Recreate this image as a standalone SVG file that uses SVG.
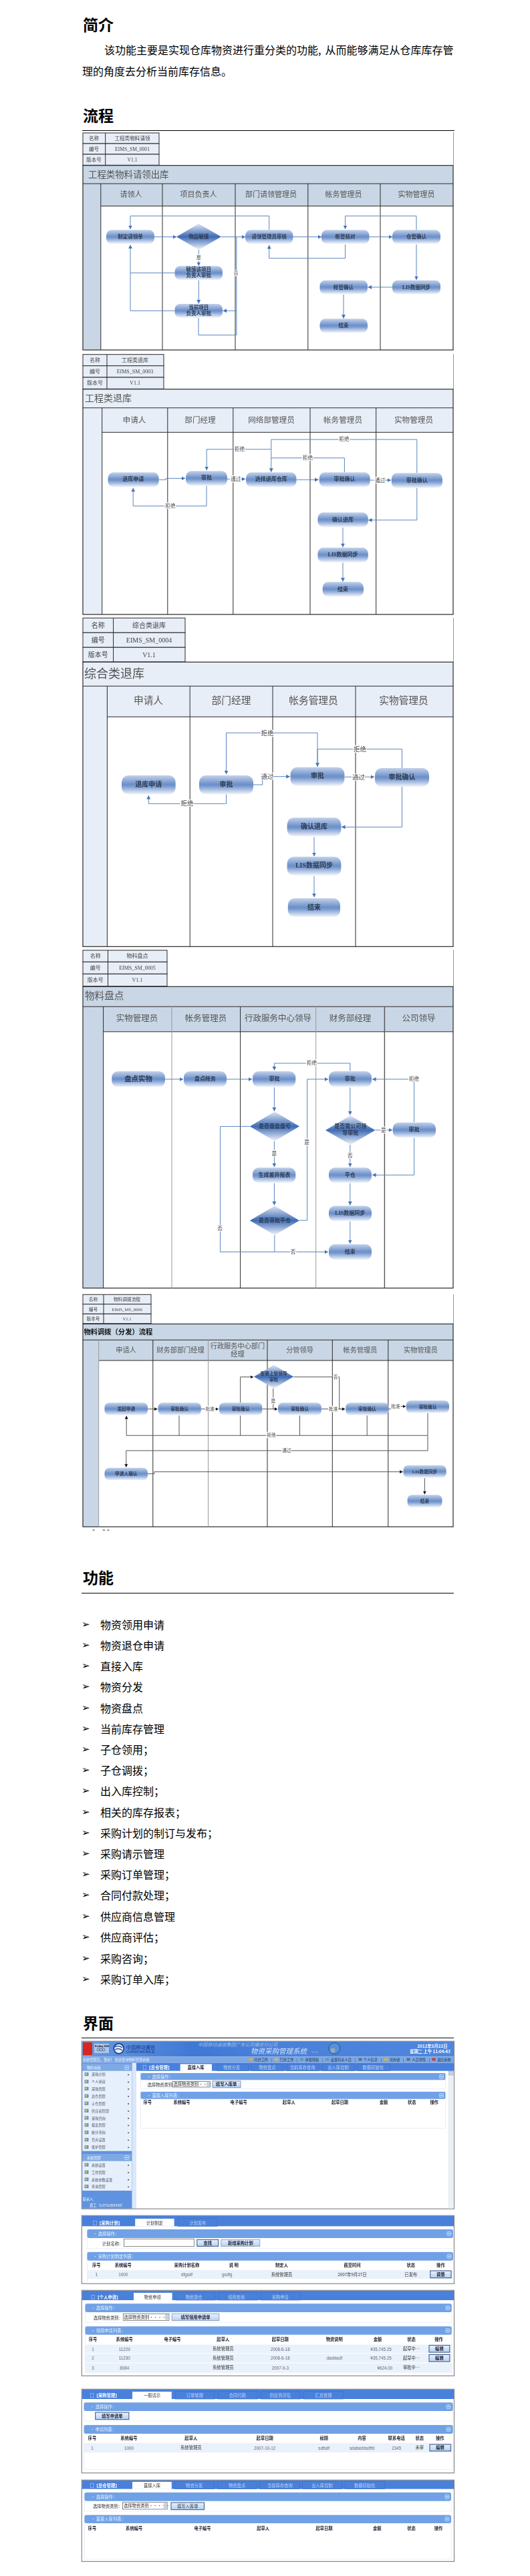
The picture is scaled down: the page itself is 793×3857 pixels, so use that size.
<svg xmlns="http://www.w3.org/2000/svg" xmlns:xlink="http://www.w3.org/1999/xlink" width="793" height="3857" viewBox="0 0 793 3857">
<style>
text{font-family:"Liberation Serif","Noto Sans CJK SC",serif;fill:#111;dominant-baseline:central}
.m{text-anchor:middle}
.h1{font-size:23px;font-weight:700;fill:#000}
.body{font-size:16px;fill:#000;font-family:"Noto Sans CJK SC",sans-serif;dominant-baseline:auto}
.li{font-size:16px;fill:#000;font-family:"Noto Sans CJK SC",sans-serif}
.rule{stroke:#000;stroke-width:1;fill:none}
.frame{fill:none;stroke:#2a2a2a;stroke-width:1.2}
.lane{stroke:#2a2a2a;stroke-width:1;fill:none}
.thin{stroke:#999;stroke-width:1;fill:none}
.dk{fill:#c8d6e5}.lt{fill:#e8eef7}
.meta{fill:#e8eef7;stroke:#2a2a2a;stroke-width:1}
.tx{fill:#444}
.hd{fill:#555}
.pill{fill:url(#pg)}
.dia{fill:url(#dg)}
.nt{fill:#2e3a4e;font-weight:700}
.c{fill:none;stroke:#5a86bd;stroke-width:1}
.a{marker-end:url(#ar)}
.cd{fill:none;stroke:#555;stroke-width:1}
.ad{marker-end:url(#ak)}
.l{fill:#444;paint-order:stroke;stroke:#fff;stroke-width:2.5px;stroke-linejoin:round}
.bl{filter:url(#b)}
.bullet{font-family:"DejaVu Sans",sans-serif;font-size:15px;fill:#000;font-weight:700}
.shot{fill:#fff;stroke:#888;stroke-width:1.2}
.bar{fill:#4a80dc}
.tab{fill:#4a80dc;stroke:#3b6fc2;stroke-width:.6}
.on{fill:#fff}
.ph{fill:#6fa1e6}
.pb{fill:#fff;stroke:#e4ecf7;stroke-width:.8}
.row{fill:#e9f1fa}
.sel{fill:#fff;stroke:#555;stroke-width:.7}
.btn{fill:url(#bt);stroke:#24426e;stroke-width:.9}
.s{font-size:6.3px;font-family:"Noto Sans CJK SC",sans-serif;fill:#333}
.sb{font-size:6.3px;font-family:"Noto Sans CJK SC",sans-serif;fill:#223;font-weight:700}
.sw{font-size:6.3px;font-family:"Noto Sans CJK SC",sans-serif;fill:#e8f0fc}
.st{font-size:6.3px;font-family:"Noto Sans CJK SC",sans-serif;fill:#bcd2f2}
.sm{font-size:5.2px;font-family:"Noto Sans CJK SC",sans-serif;fill:#556}
.w5{font-size:5.2px;font-family:"Noto Sans CJK SC",sans-serif;fill:#f2f6fd}
.d{font-size:6.3px;font-family:"Liberation Sans",sans-serif;fill:#667}
</style>
<defs>
<linearGradient id="pg" x1="0" y1="0" x2="0" y2="1"><stop offset="0" stop-color="#c2d1e9"/><stop offset=".48" stop-color="#6a8fc9"/><stop offset=".58" stop-color="#7a9bd0"/><stop offset="1" stop-color="#f2f5fb"/></linearGradient>
<linearGradient id="dg" x1="0" y1="0" x2="0" y2="1"><stop offset="0" stop-color="#dfe7f3"/><stop offset=".5" stop-color="#3f6cb5"/><stop offset="1" stop-color="#f2f5fb"/></linearGradient>
<linearGradient id="bt" x1="0" y1="0" x2="0" y2="1"><stop offset="0" stop-color="#e8f2ff"/><stop offset="1" stop-color="#b4d0f2"/></linearGradient>
<linearGradient id="hg" x1="0" y1="0" x2="1" y2="0"><stop offset="0" stop-color="#6a9ae0"/><stop offset=".3" stop-color="#3f78d4"/><stop offset=".5" stop-color="#4a80d8"/><stop offset="1" stop-color="#4f86de"/></linearGradient>
<marker id="ar" markerUnits="userSpaceOnUse" markerWidth="6" markerHeight="6" refX="5.5" refY="3" orient="auto"><path d="M0,0L5.5,3L0,6z" fill="#4472b8"/></marker>
<marker id="ak" markerUnits="userSpaceOnUse" markerWidth="5" markerHeight="5" refX="4.5" refY="2.5" orient="auto"><path d="M0,0L4.5,2.5L0,5z" fill="#111"/></marker>
<filter id="b" x="-2%" y="-2%" width="104%" height="104%"><feGaussianBlur stdDeviation=".32"/></filter>
<g id="mi"><rect x="0" y="-2.6" width="6" height="5.2" fill="#6d8fb3"/><rect x="1" y="-1.6" width="2.6" height="2.6" fill="#e7c36a"/></g>
<path id="ma" d="M0,-1.2L2,0L0,1.2z" fill="#222"/>
<g id="ci"><rect x="-3" y="-3" width="6" height="6" rx="1.5" fill="#7fb0ec" stroke="#d8e8fb" stroke-width=".7"/><path d="M-1.6,0H1.6" stroke="#fff" stroke-width=".8"/></g>
</defs>

<rect width="793" height="3857" fill="#fff"/>

<g id="intro">
<text class="h1" x="124" y="38">简介</text>
<text class="body" x="156" y="81">该功能主要是实现仓库物资进行重分类的功能,<tspan x="486.5">从而能够满足从仓库库存管</tspan></text>
<text class="body" x="123" y="113">理的角度去分析当前库存信息。</text>
<text class="h1" x="124" y="174">流程</text>
<path class="rule" d="M123,195.5H680"/>
</g>

<!-- ============ DIAGRAM 1 ============ -->
<g id="flow1" class="bl">
<path class="thin" d="M678.5,198V247.5"/>
<g id="flow1-frame">
<rect class="meta" x="124" y="199" width="114" height="16"/><rect class="meta" x="124" y="215" width="114" height="16"/><rect class="meta" x="124" y="231" width="114" height="16.3"/>
<path class="lane" d="M157.7,199V247.3"/>
<text class="m tx" font-size="7.6" x="140.5" y="207">名称</text><text class="m tx" font-size="7.6" x="198" y="207">工程类物料请领</text>
<text class="m tx" font-size="7.6" x="140.5" y="223">编号</text><text class="m tx" font-size="7.6" x="198" y="223">EIMS_SM_0001</text>
<text class="m tx" font-size="7.6" x="140.5" y="239">版本号</text><text class="m tx" font-size="7.6" x="198" y="239">V1.1</text>
<rect class="dk" x="124" y="247.7" width="554" height="27.3"/><rect class="dk" x="124" y="275" width="26.8" height="249"/><rect class="dk" x="150.8" y="275" width="527.2" height="33.5"/>
<rect class="frame" x="124" y="247.7" width="554" height="276.3"/>
<path class="lane" d="M124,275H678M150.8,308.5H678M150.8,275V524M243,275V524M352,275V524M460.8,275V524M569,275V524"/>
<text class="hd" font-size="13.4" x="132" y="261">工程类物料请领出库</text>
<text class="m hd" font-size="11" x="196" y="291">请领人</text><text class="m hd" font-size="11" x="297" y="291">项目负责人</text><text class="m hd" font-size="11" x="405.5" y="291">部门请领管理员</text><text class="m hd" font-size="11" x="514" y="291">帐务管理员</text><text class="m hd" font-size="11" x="623" y="291">实物管理员</text>
</g>
<g id="flow1-connectors">
<path class="c a" d="M231,354.7H264"/><path class="c a" d="M331,354.7H367"/><path class="c a" d="M438,354.7H481"/><path class="c a" d="M552,354.7H587"/>
<path class="c a" d="M402.7,344V323.3H195V343"/><path class="c a" d="M623,344V323.3H516.5V343"/>
<path class="c a" d="M516.5,366V386.7H402.7V367"/><path class="c a" d="M623,366V419"/><path class="c a" d="M587,430H550.5"/><path class="c a" d="M514,441V476.7"/>
<path class="c a" d="M297.3,374V398"/><path class="c a" d="M261.5,408.7H195V366.7"/><path class="c" d="M261.5,465.3H195V408.7"/><path class="c a" d="M297.3,419.5V454.5"/>
<path class="c" d="M297,476V501.7H353.8V354.7"/><path class="c a" d="M353.8,465.3H333.5"/>
<text class="m l" font-size="7" x="297.3" y="385.7">是</text><text class="m l" font-size="7" x="353" y="408.7">否</text>
</g>
<g id="f1n1"><rect class="pill" x="159" y="344.3" width="72" height="20.7" rx="8"/><text class="m nt" font-size="7.5" x="195" y="354.5">制定请领单</text></g>
<g id="f1n2"><path class="dia" d="M297.3,335L331,354.5L297.3,374L264,354.5z"/><text class="m nt" font-size="7.5" x="297.3" y="354.5">物品敏感</text></g>
<g id="f1n3"><rect class="pill" x="367" y="344.3" width="71.5" height="20.7" rx="8"/><text class="m nt" font-size="7.5" x="402.7" y="354.5">请领管理员审核</text></g>
<g id="f1n4"><rect class="pill" x="481" y="344.3" width="71.5" height="20.7" rx="8"/><text class="m nt" font-size="7.5" x="516.5" y="354.5">帐管核对</text></g>
<g id="f1n5"><rect class="pill" x="587" y="344.3" width="72" height="20.7" rx="8"/><text class="m nt" font-size="7.5" x="623" y="354.5">仓管确认</text></g>
<g id="f1n6"><rect class="pill" x="261.5" y="398.3" width="71.5" height="21" rx="8"/><text class="m nt" font-size="7.5" x="297.3" y="403.7">敏感该项目</text><text class="m nt" font-size="7.5" x="297.3" y="412.7">负责人审批</text></g>
<g id="f1n7"><rect class="pill" x="261.5" y="455" width="71.5" height="20.7" rx="8"/><text class="m nt" font-size="7.5" x="297.3" y="460.5">当前项目</text><text class="m nt" font-size="7.5" x="297.3" y="469.3">负责人审批</text></g>
<g id="f1n8"><rect class="pill" x="587" y="419.7" width="72" height="20.7" rx="8"/><text class="m nt" font-size="7.5" x="623" y="430">LIS数据同步</text></g>
<g id="f1n9"><rect class="pill" x="478.5" y="419.7" width="71.5" height="20.7" rx="8"/><text class="m nt" font-size="7.5" x="514" y="430">帐管确认</text></g>
<g id="f1n10"><rect class="pill" x="478.5" y="477.3" width="71.5" height="21" rx="8"/><text class="m nt" font-size="7.5" x="514" y="487.5">结束</text></g>
</g>

<!-- ============ DIAGRAM 2 ============ -->
<g id="flow2" class="bl">
<path class="thin" d="M678.5,530V582.7"/>
<g id="flow2-frame">
<rect class="meta" x="124" y="530.7" width="121" height="17"/><rect class="meta" x="124" y="547.7" width="121" height="17.3"/><rect class="meta" x="124" y="565" width="121" height="17.3"/>
<path class="lane" d="M160,530.7V582.3"/>
<text class="m tx" font-size="8" x="142" y="539">名称</text><text class="m tx" font-size="8" x="202" y="539">工程类退库</text>
<text class="m tx" font-size="8" x="142" y="556">编号</text><text class="m tx" font-size="8" x="202" y="556">EIMS_SM_0003</text>
<text class="m tx" font-size="8" x="142" y="573">版本号</text><text class="m tx" font-size="8" x="202" y="573">V1.1</text>
<rect class="lt" x="124" y="582.7" width="554" height="28"/><rect class="lt" x="124" y="610.7" width="28.7" height="309.3"/><rect class="lt" x="152.7" y="610.7" width="525.3" height="36.6"/>
<rect class="frame" x="124" y="582.7" width="554" height="337.3"/>
<path class="lane" d="M124,610.7H678M152.7,647.3H678M152.7,610.7V920M250.8,610.7V920M348.8,610.7V920M464,610.7V920M562.7,610.7V920"/>
<text class="hd" font-size="14" x="127" y="596.7">工程类退库</text>
<text class="m hd" font-size="11.6" x="201" y="629">申请人</text><text class="m hd" font-size="11.6" x="299.5" y="629">部门经理</text><text class="m hd" font-size="11.6" x="406" y="629">网络部管理员</text><text class="m hd" font-size="11.6" x="513" y="629">帐务管理员</text><text class="m hd" font-size="11.6" x="619" y="629">实物管理员</text>
</g>
<g id="flow2-connectors">
<path class="c a" d="M237.7,718.3H248V716.3H277"/><path class="c a" d="M340,717.3H367"/><path class="c a" d="M443.5,718.3H476.5"/><path class="c a" d="M553.8,719H585"/>
<path class="c a" d="M309,727.3V757.7H199.2V730.7"/>
<path class="c a" d="M623.8,708V658H405.8V706.7"/><path class="c" d="M515.4,707V685.7H405.8"/><path class="c a" d="M405.8,672.7H309.2V704"/>
<path class="c a" d="M623.8,730.7V778.7H551"/><path class="c a" d="M513,790V819.3"/><path class="c a" d="M513,842.7V870.7"/>
<text class="m l" font-size="7.7" x="352.7" y="717.7">通过</text><text class="m l" font-size="7.7" x="568.5" y="719">通过</text><text class="m l" font-size="7.7" x="255" y="757">拒绝</text><text class="m l" font-size="7.7" x="515" y="657">拒绝</text><text class="m l" font-size="7.7" x="460.4" y="685">拒绝</text><text class="m l" font-size="7.7" x="358.5" y="672.3">拒绝</text>
</g>
<g id="f2n1"><rect class="pill" x="161.5" y="707.3" width="76.2" height="22" rx="8.5"/><text class="m nt" font-size="8" x="199.2" y="717.8">退库申请</text></g>
<g id="f2n2"><rect class="pill" x="278" y="705.3" width="62" height="22" rx="8.5"/><text class="m nt" font-size="8" x="309" y="715.8">审批</text></g>
<g id="f2n3"><rect class="pill" x="368" y="707.3" width="75.5" height="22" rx="8.5"/><text class="m nt" font-size="8" x="405.8" y="717.8">选择退库仓库</text></g>
<g id="f2n4"><rect class="pill" x="477.7" y="707.3" width="76.1" height="22" rx="8.5"/><text class="m nt" font-size="8" x="515.4" y="717.8">审批确认</text></g>
<g id="f2n5"><rect class="pill" x="585.8" y="708.3" width="76.2" height="22.4" rx="8.5"/><text class="m nt" font-size="8" x="623.8" y="719">审批确认</text></g>
<g id="f2n6"><rect class="pill" x="475.4" y="767.3" width="75.4" height="22" rx="8.5"/><text class="m nt" font-size="8" x="513" y="778">确认退库</text></g>
<g id="f2n7"><rect class="pill" x="475.4" y="820" width="75.4" height="22" rx="8.5"/><text class="m nt" font-size="8" x="513" y="830.5">LIS数据同步</text></g>
<g id="f2n8"><rect class="pill" x="482.7" y="871.3" width="61.3" height="22" rx="8.5"/><text class="m nt" font-size="8" x="513" y="882">结束</text></g>
</g>

<!-- ============ DIAGRAM 3 ============ -->
<g id="flow3" class="bl">
<path class="thin" d="M678.5,925V991"/>
<g id="flow3-frame">
<rect class="meta" x="124" y="925.3" width="153" height="22"/><rect class="meta" x="124" y="947.3" width="153" height="22"/><rect class="meta" x="124" y="969.3" width="153" height="21.7"/>
<path class="lane" d="M169.6,925.3V991"/>
<text class="m tx" font-size="10" x="146.8" y="936">名称</text><text class="m tx" font-size="10" x="223" y="936">综合类退库</text>
<text class="m tx" font-size="10" x="146.8" y="958">编号</text><text class="m tx" font-size="10" x="223" y="958">EIMS_SM_0004</text>
<text class="m tx" font-size="10" x="146.8" y="980">版本号</text><text class="m tx" font-size="10" x="223" y="980">V1.1</text>
<rect class="lt" x="124" y="991.3" width="554" height="36"/><rect class="lt" x="124" y="1027.3" width="36.4" height="390"/><rect class="lt" x="160.4" y="1027.3" width="517.6" height="46"/>
<rect class="frame" x="124" y="991.3" width="554" height="426"/>
<path class="lane" d="M124,1027.3H678M160.4,1073.3H678M160.4,1027.3V1417.3M284.2,1027.3V1417.3M408,1027.3V1417.3M532,1027.3V1417.3"/>
<text class="hd" font-size="18" x="126" y="1008.7">综合类退库</text>
<text class="m hd" font-size="14.7" x="222" y="1049.3">申请人</text><text class="m hd" font-size="14.7" x="346" y="1049.3">部门经理</text><text class="m hd" font-size="14.7" x="469" y="1049.3">帐务管理员</text><text class="m hd" font-size="14.7" x="604" y="1049.3">实物管理员</text>
</g>
<g id="flow3-connectors">
<path class="c a" d="M379,1175H392.7V1162.7H433.8"/><path class="c a" d="M515.4,1163.3H560"/>
<path class="c a" d="M338.5,1189.3V1203.3H222.3V1191"/>
<path class="c a" d="M475,1148V1097.3H338.5V1159.3"/>
<path class="c a" d="M601.5,1150V1121.7H475V1147.7"/>
<path class="c a" d="M601.5,1178V1238.3H511"/><path class="c a" d="M470,1253.3V1282"/><path class="c a" d="M470,1311.7V1343.3"/>
<text class="m l" font-size="9.6" x="400" y="1162">通过</text><text class="m l" font-size="9.6" x="536.5" y="1163">通过</text><text class="m l" font-size="9.6" x="280" y="1202.7">拒绝</text><text class="m l" font-size="9.6" x="400" y="1097">拒绝</text><text class="m l" font-size="9.6" x="538.5" y="1121.3">拒绝</text>
</g>
<g id="f3n1"><rect class="pill" x="182" y="1161" width="80.7" height="28.3" rx="10"/><text class="m nt" font-size="10" x="222.3" y="1174">退库申请</text></g>
<g id="f3n2"><rect class="pill" x="298" y="1161" width="81" height="28.3" rx="10"/><text class="m nt" font-size="10" x="338.5" y="1174">审批</text></g>
<g id="f3n3"><rect class="pill" x="434.6" y="1148.7" width="80.8" height="28" rx="10"/><text class="m nt" font-size="10" x="475" y="1161.7">审批</text></g>
<g id="f3n4"><rect class="pill" x="561" y="1150" width="81" height="28" rx="10"/><text class="m nt" font-size="10" x="601.5" y="1163">审批确认</text></g>
<g id="f3n5"><rect class="pill" x="429.6" y="1224.3" width="80.8" height="28" rx="10"/><text class="m nt" font-size="10" x="470" y="1237.3">确认退库</text></g>
<g id="f3n6"><rect class="pill" x="429.6" y="1282.7" width="80.8" height="28" rx="10"/><text class="m nt" font-size="10" x="470" y="1295.7">LIS数据同步</text></g>
<g id="f3n7"><rect class="pill" x="430.8" y="1345" width="78.2" height="28" rx="10"/><text class="m nt" font-size="10" x="470" y="1358">结束</text></g>
</g>

<!-- ============ DIAGRAM 4 ============ -->
<g id="flow4" class="bl">
<path class="thin" d="M678.5,1422V1477"/>
<g id="flow4-frame">
<rect class="meta" x="124" y="1422.8" width="126" height="17.5"/><rect class="meta" x="124" y="1440.3" width="126" height="18"/><rect class="meta" x="124" y="1458.3" width="126" height="18.3"/>
<path class="lane" d="M161.5,1422.8V1476.6"/>
<text class="m tx" font-size="8" x="142.7" y="1431">名称</text><text class="m tx" font-size="8" x="205.5" y="1431">物料盘点</text>
<text class="m tx" font-size="8" x="142.7" y="1449">编号</text><text class="m tx" font-size="8" x="205.5" y="1449">EIMS_SM_0005</text>
<text class="m tx" font-size="8" x="142.7" y="1467">版本号</text><text class="m tx" font-size="8" x="205.5" y="1467">V1.1</text>
<rect class="dk" x="124" y="1477.2" width="554" height="30"/><rect class="dk" x="124" y="1507.2" width="30.6" height="421.4"/><rect class="dk" x="154.6" y="1507.2" width="523.4" height="37.6"/>
<rect class="frame" x="124" y="1477.2" width="554" height="451.4"/>
<path class="lane" d="M124,1507.2H678M154.6,1544.8H678M154.6,1507.2V1928.6M359.6,1507.2V1928.6"/>
<path class="thin" d="M257,1507.2V1928.6"/><path class="thin" stroke-width="1.3" d="M472.7,1507.2V1928.6"/><path fill="none" stroke="#555" stroke-width="1.4" d="M575.4,1507.2V1928.6"/>
<text class="hd" font-size="14.6" x="127" y="1491.4">物料盘点</text>
<text class="m hd" font-size="12.5" x="205" y="1525">实物管理员</text><text class="m hd" font-size="12.5" x="308" y="1525">帐务管理员</text><text class="m hd" font-size="12.5" x="416" y="1525">行政服务中心领导</text><text class="m hd" font-size="12.5" x="524" y="1525">财务部经理</text><text class="m hd" font-size="12.5" x="626.5" y="1525">公司领导</text>
</g>
<g id="flow4-connectors">
<path class="c a" d="M247,1615.9H274"/><path class="c a" d="M339,1615.9H377"/><path class="c a" d="M410.4,1628.3V1663.8"/><path class="c a" d="M410.4,1708.6V1747.2"/><path class="c a" d="M410.4,1771.7V1804.5"/>
<path class="c a" d="M448,1827.2H459.6V1615.9H491"/><path class="c a" d="M523.8,1603.4V1592H410.4V1602.4"/><path class="c a" d="M523.8,1628.3V1669.3"/>
<path class="c a" d="M561.5,1692H587"/><path class="c a" d="M619.6,1680V1615.9H557"/><path class="c a" d="M619.6,1704V1759.3H557"/>
<path class="c a" d="M523.8,1714V1747.2"/><path class="c a" d="M523.8,1771.7V1804.5"/><path class="c a" d="M523.8,1829V1862"/>
<path class="c a" d="M373.8,1686.6H329.6V1874.5H491"/><path class="c" d="M410.8,1849.3V1874.5"/>
<text class="m l" font-size="7.7" x="410.4" y="1727.6">是</text><text class="m l" font-size="7.7" x="459" y="1710.7">是</text><text class="m l" font-size="7.7" x="466.5" y="1591">拒绝</text><text class="m l" font-size="7.7" x="573.8" y="1692">是</text><text class="m l" font-size="7.7" x="619.6" y="1615.5">拒绝</text><text class="m l" font-size="7.7" x="523.8" y="1730">否</text><text class="m l" font-size="7.7" x="329" y="1839.3">否</text><text class="m l" font-size="7.7" x="438.5" y="1874">否</text>
</g>
<g id="f4n1"><rect class="pill" x="167.3" y="1604.1" width="79.7" height="23.5" rx="9"/><text class="m nt" font-size="10.4" x="207" y="1615.2">盘点实物</text></g>
<g id="f4n2"><rect class="pill" x="275" y="1604.1" width="64" height="23.5" rx="9"/><text class="m nt" font-size="8" x="307" y="1615.5">盘点帐务</text></g>
<g id="f4n3"><rect class="pill" x="378" y="1604.1" width="64.3" height="23.5" rx="9"/><text class="m nt" font-size="8" x="410.4" y="1615.5">审批</text></g>
<g id="f4n4"><rect class="pill" x="492" y="1604.1" width="64" height="23.5" rx="9"/><text class="m nt" font-size="8" x="523.8" y="1615.5">审批</text></g>
<g id="f4n5"><path class="dia" d="M411,1664.5L448,1686.6L411,1708.6L373.8,1686.6z"/><text class="m nt" font-size="8" x="411" y="1686">是否盘盈盘亏</text></g>
<g id="f4n6"><path class="dia" d="M524.3,1670.3L561.5,1692.2L524.3,1714.1L487,1692.2z"/><text class="m nt" font-size="8" x="524.3" y="1686">是否需公司领</text><text class="m nt" font-size="8" x="524.3" y="1696.3">导审批</text></g>
<g id="f4n7"><rect class="pill" x="587.7" y="1680.7" width="64.3" height="22.7" rx="9"/><text class="m nt" font-size="8" x="619.6" y="1691.8">审批</text></g>
<g id="f4n8"><rect class="pill" x="378" y="1748.3" width="64.3" height="22.7" rx="9"/><text class="m nt" font-size="8" x="410.4" y="1759.2">生成差异报表</text></g>
<g id="f4n9"><rect class="pill" x="492" y="1748.3" width="64" height="22.7" rx="9"/><text class="m nt" font-size="8" x="523.8" y="1759.2">平仓</text></g>
<g id="f4n10"><path class="dia" d="M411,1805.5L448,1827.4L411,1849.3L373.8,1827.4z"/><text class="m nt" font-size="8" x="411" y="1827">是否审批平仓</text></g>
<g id="f4n11"><rect class="pill" x="492" y="1805.5" width="64" height="22.8" rx="9"/><text class="m nt" font-size="8" x="523.8" y="1816.5">LIS数据同步</text></g>
<g id="f4n12"><rect class="pill" x="492" y="1863.1" width="64" height="23.1" rx="9"/><text class="m nt" font-size="8" x="523.8" y="1874.4">结束</text></g>
</g>

<!-- ============ DIAGRAM 5 ============ -->
<g id="flow5" class="bl">
<path class="thin" d="M678.5,1938V1982"/>
<g id="flow5-frame">
<rect class="meta" x="124" y="1938.3" width="102" height="14.4"/><rect class="meta" x="124" y="1952.7" width="102" height="14.6"/><rect class="meta" x="124" y="1967.3" width="102" height="14.4"/>
<path class="lane" d="M155,1938.3V1981.7"/>
<text class="m tx" font-size="6.7" x="139.5" y="1945.5">名称</text><text class="m tx" font-size="6.7" x="190" y="1945.5">物料调拨流程</text>
<text class="m tx" font-size="6.7" x="139.5" y="1960">编号</text><text class="m tx" font-size="6.7" x="190" y="1960">EIMS_MS_0006</text>
<text class="m tx" font-size="6.7" x="139.5" y="1974.5">版本号</text><text class="m tx" font-size="6.7" x="190" y="1974.5">V1.1</text>
<rect class="dk" x="124" y="1982.3" width="554" height="24"/><rect class="dk" x="124" y="2006.3" width="23.7" height="279.7"/><rect class="dk" x="147.7" y="2006.3" width="530.3" height="30.7"/>
<rect class="frame" x="124" y="1982.3" width="554" height="303.7"/>
<path class="lane" d="M124,2006.3H678M147.7,2037H678M228.8,2006.3V2286M400,2006.3V2286M497.3,2006.3V2286M580.8,2006.3V2286"/>
<path class="thin" stroke="#666" d="M311.5,2006.3V2286M147.7,2006.3V2286"/>
<text font-size="10.3" font-weight="700" fill="#222" x="125.4" y="1994.3">物料调拨（分发）流程</text>
<text class="m hd" font-size="10.2" x="188.5" y="2021.3">申请人</text><text class="m hd" font-size="10.2" x="270" y="2021.3">财务部部门经理</text><text class="m hd" font-size="10.2" x="355.5" y="2015">行政服务中心部门</text><text class="m hd" font-size="10.2" x="355.5" y="2027.5">经理</text><text class="m hd" font-size="10.2" x="448.5" y="2021.3">分管领导</text><text class="m hd" font-size="10.2" x="539" y="2021.3">帐务管理员</text><text class="m hd" font-size="10.2" x="629.5" y="2021.3">实物管理员</text>
</g>
<g id="flow5-connectors">
<path class="cd ad" d="M221,2109.7H235.5"/><path class="cd ad" d="M300.8,2109.7H327"/><path class="cd ad" d="M392.3,2109.7H415"/><path class="cd ad" d="M480.8,2109.7H516"/>
<path class="cd ad" d="M581.5,2109.7H585.4V2105.7H607"/><path class="cd ad" d="M359.6,2100V2061.7H379"/><path class="cd ad" d="M439.2,2061.7H507.7V2109.7H516"/><path class="cd ad" d="M408.8,2079V2109.7H415"/>
<path class="cd ad" stroke-width="1.2" d="M640,2149.3H189.2V2120"/><path class="cd" d="M268,2119.5V2149.3M359.6,2119.5V2149.3M448.5,2119.5V2149.3M549.2,2119.5V2149.3M640,2116V2149.3"/>
<path class="cd ad" d="M640,2149.3V2172H188.8V2196.7"/><path class="cd ad" d="M221,2206.7H230.8V2203.7H602.7"/><path class="cd ad" d="M635.4,2213.3V2237.3"/>
<text class="m l" font-size="6.7" x="314.2" y="2109.7">批准</text><text class="m l" font-size="6.7" x="498.8" y="2109.7">批准</text><text class="m l" font-size="6.7" x="592" y="2105.7">批准</text><text class="m l" font-size="6.7" x="502" y="2061">否</text><text class="m l" font-size="6.7" x="408.8" y="2097.7">是</text><text class="m l" font-size="6.7" x="406" y="2148.3">拒绝</text><text class="m l" font-size="6.7" x="429" y="2171.3">通过</text>
</g>
<g id="f5n1"><rect class="pill" x="156.5" y="2100.3" width="64.5" height="18.7" rx="7"/><text class="m nt" font-size="6.7" x="188.8" y="2109.3">发起申请</text></g>
<g id="f5n2"><rect class="pill" x="236.5" y="2100.3" width="64.3" height="18.7" rx="7"/><text class="m nt" font-size="6.7" x="268.5" y="2109.3">审批确认</text></g>
<g id="f5n3"><rect class="pill" x="328" y="2100.3" width="64.3" height="18.7" rx="7"/><text class="m nt" font-size="6.7" x="360" y="2109.3">审批确认</text></g>
<g id="f5n4"><rect class="pill" x="416" y="2100.3" width="64.8" height="18.7" rx="7"/><text class="m nt" font-size="6.7" x="448.5" y="2109.3">审批确认</text></g>
<g id="f5n5"><rect class="pill" x="517.3" y="2100.3" width="64.2" height="18.7" rx="7"/><text class="m nt" font-size="6.7" x="549.4" y="2109.3">审批确认</text></g>
<g id="f5n6"><rect class="pill" x="607.7" y="2097" width="64.3" height="18.7" rx="7"/><text class="m nt" font-size="6.7" x="640" y="2106">审批确认</text></g>
<g id="f5n7"><path class="dia" d="M409.6,2043.7L439.2,2061.3L409.6,2079L380,2061.3z"/><text class="m nt" font-size="6.7" x="409.6" y="2056.7">需要上管领导</text><text class="m nt" font-size="6.7" x="409.6" y="2065">审批</text></g>
<g id="f5n8"><rect class="pill" x="156.5" y="2197.7" width="64.5" height="18.6" rx="7"/><text class="m nt" font-size="6.7" x="188.8" y="2206.5">申请人确认</text></g>
<g id="f5n9"><rect class="pill" x="603.5" y="2194" width="64.2" height="18.7" rx="7"/><text class="m nt" font-size="6.7" x="635.5" y="2203">LIS数据同步</text></g>
<g id="f5n10"><rect class="pill" x="609.6" y="2238.3" width="51.9" height="18.7" rx="7"/><text class="m nt" font-size="6.7" x="635.5" y="2247.3">结束</text></g>
</g>
<path fill="#222" d="M138.5,2290.5h3v1h-3zM153.8,2290.5h3.2v1h-3.2zM160.4,2290.5h3.1v1h-3.1z"/>

<!-- ============ 功能 ============ -->
<g id="features">
<text class="h1" x="124" y="2363.6">功能</text>
<path class="rule" d="M122,2385.4H679"/>
<g id="fl">
<text class="bullet" x="122" y="2432">➢</text><text class="li" x="150" y="2432">物资领用申请</text>
<text class="bullet" x="122" y="2463">➢</text><text class="li" x="150" y="2463">物资退仓申请</text>
<text class="bullet" x="122" y="2494">➢</text><text class="li" x="150" y="2494">直接入库</text>
<text class="bullet" x="122" y="2525">➢</text><text class="li" x="150" y="2525">物资分发</text>
<text class="bullet" x="122" y="2557">➢</text><text class="li" x="150" y="2557">物资盘点</text>
<text class="bullet" x="122" y="2588">➢</text><text class="li" x="150" y="2588">当前库存管理</text>
<text class="bullet" x="122" y="2619">➢</text><text class="li" x="150" y="2619">子仓领用；</text>
<text class="bullet" x="122" y="2650">➢</text><text class="li" x="150" y="2650">子仓调拨；</text>
<text class="bullet" x="122" y="2681">➢</text><text class="li" x="150" y="2681">出入库控制；</text>
<text class="bullet" x="122" y="2713">➢</text><text class="li" x="150" y="2713">相关的库存报表；</text>
<text class="bullet" x="122" y="2744">➢</text><text class="li" x="150" y="2744">采购计划的制订与发布；</text>
<text class="bullet" x="122" y="2775">➢</text><text class="li" x="150" y="2775">采购请示管理</text>
<text class="bullet" x="122" y="2806">➢</text><text class="li" x="150" y="2806">采购订单管理；</text>
<text class="bullet" x="122" y="2837">➢</text><text class="li" x="150" y="2837">合同付款处理；</text>
<text class="bullet" x="122" y="2869">➢</text><text class="li" x="150" y="2869">供应商信息管理</text>
<text class="bullet" x="122" y="2900">➢</text><text class="li" x="150" y="2900">供应商评估；</text>
<text class="bullet" x="122" y="2931.5">➢</text><text class="li" x="150" y="2931.5">采购咨询；</text>
<text class="bullet" x="122" y="2963">➢</text><text class="li" x="150" y="2963">采购订单入库；</text>
</g>
</g>

<!-- ============ 界面 ============ -->
<text class="h1" x="124" y="3030.7">界面</text>
<path class="rule" d="M122,3051.3H679"/>

<g id="shot1" class="bl">
<rect class="shot" x="122.3" y="3056.3" width="557.2" height="251"/>
<rect x="123" y="3057" width="556" height="22.3" fill="url(#hg)"/>
<rect x="123" y="3079.3" width="556" height="9.4" fill="#7ba7e4"/>
<rect x="123" y="3088.7" width="81" height="218" fill="#5f93e0"/>
<rect x="197.5" y="3088.7" width="6.5" height="218" fill="#dbe8f9"/>
<rect x="670.5" y="3100.7" width="8.5" height="206" fill="#eceff3"/><rect x="671.5" y="3101" width="6.5" height="6" fill="#c9d2dc" stroke="#8a96a6" stroke-width=".4"/>
<rect x="124" y="3058" width="14" height="19" fill="#d7261e"/>
<rect x="141" y="3060" width="22" height="14" fill="#e8f0fb" opacity=".55"/>
<text font-size="4" x="142" y="3063.5" font-weight="700" fill="#223">Beijing 2008</text>
<g fill="none" stroke="#345" stroke-width=".6"><circle cx="147" cy="3069" r="2"/><circle cx="151" cy="3069" r="2"/><circle cx="155" cy="3069" r="2"/></g>
<circle cx="177.8" cy="3067.3" r="7.5" fill="#e8f0fb" stroke="#1a3f8f" stroke-width="1.8"/><path d="M172,3065q6,-3 11,1M172,3069q6,-3 11,1" fill="none" stroke="#1a3f8f" stroke-width="1.2"/>
<text font-size="7.2" x="188.8" y="3065" style="fill:#123a86;font-family:'Noto Sans CJK SC',sans-serif">中国移动通信</text>
<text font-size="6" x="188.8" y="3072.3" style="fill:#123a86;font-family:'Liberation Sans',sans-serif">CHINA MOBILE</text>
<text font-size="7" font-style="italic" x="296.6" y="3061.7" style="fill:#9fc0ee">中国移动通信集团广东公司肇庆分公司</text>
<text font-size="10.5" font-style="italic" x="375" y="3071.3" style="fill:#d4e3f8">物资采购管理系统</text>
<text font-size="5" x="466" y="3072" style="fill:#a9c6ee">V1.0</text>
<circle cx="500.3" cy="3067" r="8.5" fill="#5a8fd6" stroke="#24528f" stroke-width="1"/><circle cx="498" cy="3070" r="3.5" fill="#9aa8b8"/>
<text class="sb" style="fill:#fff" text-anchor="end" x="669.5" y="3063.3">2012年5月22日</text>
<text class="sb" style="fill:#fff" text-anchor="end" x="674" y="3071.3">星期二 上午 11:04:43</text>
<text class="w5" x="124" y="3083.5">系统管理员，您好！ 欢迎使用物料管理系统</text>
<g>
<rect x="372.5" y="3081.5" width="5" height="4" fill="#e2a93a"/><text class="sm" style="fill:#234" x="380.3" y="3083.5">待办工作</text><text class="sm" style="fill:#234" x="405.5" y="3083.5">|</text>
<rect x="411" y="3081.5" width="5" height="4" fill="#d8b45a"/><text class="sm" style="fill:#234" x="418.6" y="3083.5">已办工作</text><text class="sm" style="fill:#234" x="443.8" y="3083.5">|</text>
<rect x="449" y="3081.5" width="5" height="4" fill="#6a8fb8"/><text class="sm" style="fill:#234" x="456.5" y="3083.5">审批授权</text><text class="sm" style="fill:#234" x="481.5" y="3083.5">|</text>
<rect x="487" y="3081.5" width="5" height="4" fill="#6a8fb8"/><text class="sm" style="fill:#234" x="494.8" y="3083.5">设置有关人员</text><text class="sm" style="fill:#234" x="531" y="3083.5">|</text>
<rect x="536.5" y="3081.5" width="5" height="4" fill="#56708c"/><text class="sm" style="fill:#234" x="544.2" y="3083.5">个人信息</text><text class="sm" style="fill:#234" x="569.5" y="3083.5">|</text>
<rect x="575" y="3081.5" width="5" height="4" fill="#d9b03c"/><text class="sm" style="fill:#234" x="582.9" y="3083.5">常用语</text><text class="sm" style="fill:#234" x="603" y="3083.5">|</text>
<rect x="608.5" y="3081.5" width="5" height="4" fill="#56708c"/><text class="sm" style="fill:#234" x="616.3" y="3083.5">人员查找</text><text class="sm" style="fill:#234" x="641.5" y="3083.5">|</text>
<rect x="646.5" y="3081.5" width="5" height="4" fill="#c83a3a"/><text class="sm" style="fill:#234" x="653.9" y="3083.5">退出系统</text>
</g>
<g id="s1-menu">
<rect x="123.3" y="3090" width="74" height="10.7" rx="2" fill="#7ea9e4"/><text class="w5" x="130" y="3095.2">物料系统</text><use href="#ci" x="189.7" y="3095.8"/>
<rect x="123.3" y="3100.7" width="74" height="120" fill="#e6f0fc"/>
<use href="#mi" x="126.5" y="3105.7"/><text class="sm" x="137" y="3105.7">采购计划</text><use href="#ma" x="191.5" y="3106.5"/>
<use href="#mi" x="126.5" y="3116.7"/><text class="sm" x="137" y="3116.7">个人申请</text><use href="#ma" x="191.5" y="3117.5"/>
<use href="#mi" x="126.5" y="3127.3"/><text class="sm" x="137" y="3127.3">采购管理</text><use href="#ma" x="191.5" y="3128"/>
<use href="#mi" x="126.5" y="3138.3"/><text class="sm" x="137" y="3138.3">总仓管理</text><use href="#ma" x="191.5" y="3139"/>
<use href="#mi" x="126.5" y="3149.3"/><text class="sm" x="137" y="3149.3">子仓管理</text><use href="#ma" x="191.5" y="3150"/>
<use href="#mi" x="126.5" y="3160.3"/><text class="sm" x="137" y="3160.3">供应商管理</text><use href="#ma" x="191.5" y="3161"/>
<use href="#mi" x="126.5" y="3171"/><text class="sm" x="137" y="3171">采购咨询</text><use href="#ma" x="191.5" y="3171.7"/>
<use href="#mi" x="126.5" y="3181.7"/><text class="sm" x="137" y="3181.7">报表管理</text><use href="#ma" x="191.5" y="3182.4"/>
<use href="#mi" x="126.5" y="3192.7"/><text class="sm" x="137" y="3192.7">统计查询</text><use href="#ma" x="191.5" y="3193.4"/>
<use href="#mi" x="126.5" y="3203.7"/><text class="sm" x="137" y="3203.7">仓库设置</text><use href="#ma" x="191.5" y="3204.4"/>
<use href="#mi" x="126.5" y="3214.7"/><text class="sm" x="137" y="3214.7">维护管理</text><use href="#ma" x="191.5" y="3215.4"/>
<rect x="123.3" y="3225" width="74" height="10.7" rx="2" fill="#7ea9e4"/><text class="w5" x="130" y="3230.3">系统管理</text><use href="#ci" x="189.7" y="3230.5"/>
<rect x="123.3" y="3235.7" width="74" height="44.3" fill="#e6f0fc"/>
<use href="#mi" x="126.5" y="3241.3"/><text class="sm" x="137" y="3241.3">系统设置</text><use href="#ma" x="191.5" y="3242"/>
<use href="#mi" x="126.5" y="3252.3"/><text class="sm" x="137" y="3252.3">工作管理</text><use href="#ma" x="191.5" y="3253"/>
<use href="#mi" x="126.5" y="3263"/><text class="sm" x="137" y="3263">系统参数设置</text><use href="#ma" x="191.5" y="3263.7"/>
<use href="#mi" x="126.5" y="3273.7"/><text class="sm" x="137" y="3273.7">查询管理</text><use href="#ma" x="191.5" y="3274.4"/>
<text class="w5" x="123.7" y="3292.5">联系人：</text><text class="w5" x="134" y="3301">龚工（13751085459）</text>
</g>
<rect class="bar" x="204" y="3088.7" width="475" height="12"/>
<rect class="tab" x="324.9" y="3090.5" width="47" height="10.2"/><rect class="tab" x="376" y="3090.5" width="48" height="10.2"/><rect class="tab" x="429" y="3090.5" width="48" height="10.2"/><rect class="tab" x="481.7" y="3090.5" width="49.3" height="10.2"/><rect class="tab" x="535" y="3090.5" width="48.3" height="10.2"/>
<rect class="on" x="269.7" y="3090.5" width="47.3" height="10.4"/>
<text class="sb m" style="fill:#fff" x="235.3" y="3095.5">□【总仓管理】</text><text class="sb m" x="293" y="3095.5">直接入库</text>
<text class="st m" x="346.8" y="3095.3">物资分发</text><text class="st m" x="400" y="3095.3">物资盘点</text><text class="st m" x="452.7" y="3095.3">当前库存查询</text><text class="st m" x="506" y="3095.3">出入库控制</text><text class="st m" x="558.3" y="3095.3">数据初始化</text>
<rect class="pb" x="210.4" y="3104" width="456.1" height="23.3"/><rect class="ph" x="210.4" y="3104" width="456.1" height="10.3" rx="2"/>
<text class="sw" x="219.7" y="3109.2">· 选择操作：</text><use href="#ci" x="660.5" y="3109.2"/>
<text class="s" x="220.4" y="3121.3">选择物资类别：</text><rect class="sel" x="258" y="3116.7" width="56.5" height="8.3"/><text class="s" x="259.5" y="3120.8">选择物资类别······</text><rect x="309" y="3117.5" width="5" height="6.8" fill="#c9d2dc"/>
<rect class="btn" x="318" y="3116" width="42" height="9.7" style="stroke:#7a8da8"/><text class="sb m" x="338.6" y="3120.8">填写入库单</text>
<rect class="pb" x="210.4" y="3132" width="456.1" height="54.7"/><rect class="ph" x="210.4" y="3132" width="456.1" height="10.7" rx="2"/>
<text class="sw" x="219.7" y="3137.3">· 直接入库列表：</text><use href="#ci" x="660.5" y="3137.3"/>
<text class="sb m" x="220.8" y="3147.7">序号</text><text class="sb m" x="272" y="3147.7">系统编号</text><text class="sb m" x="357.2" y="3147.7">电子编号</text><text class="sb m" x="432.3" y="3147.7">起草人</text><text class="sb m" x="508.5" y="3147.7">起草日期</text><text class="sb m" x="574" y="3147.7">金额</text><text class="sb m" x="616.3" y="3147.7">状态</text><text class="sb m" x="649.8" y="3147.7">操作</text>
</g>

<g id="shot2" class="bl">
<rect class="shot" x="122.3" y="3317.3" width="557.2" height="102"/>
<rect class="bar" x="123" y="3318" width="556" height="15.3"/>
<rect class="tab" x="266" y="3321.5" width="59" height="11.8"/><rect class="on" x="202.2" y="3322" width="58.4" height="11.6"/>
<text class="sb m" style="fill:#fff" x="161" y="3328.7">□【采购计划】</text><text class="s m" x="231.4" y="3328.7">计划制定</text><text class="st m" x="296" y="3328.7">计划发布</text>
<rect class="pb" x="130.4" y="3338" width="547.6" height="28.7"/><rect class="ph" x="130.4" y="3338" width="547.6" height="13" rx="3"/>
<text class="sw" x="139" y="3344.3">· 选择操作：</text><use href="#ci" x="672" y="3344.3"/>
<text class="s" x="152.8" y="3359">计划名称：</text><rect class="sel" x="185.5" y="3352.3" width="104.8" height="11.4"/>
<rect class="btn" x="294.8" y="3353.3" width="31.9" height="10"/><text class="sb m" x="310.7" y="3358.2">查找</text>
<rect class="btn" x="330.8" y="3353.3" width="58" height="10" style="stroke:#8a9bb3"/><text class="sb m" x="359.8" y="3358.2">新增采购计划</text>
<rect class="pb" x="130.4" y="3372" width="547.6" height="46"/><rect class="ph" x="130.4" y="3372" width="547.6" height="12.7" rx="3"/>
<text class="sw" x="139" y="3378.3">· 采购计划制定列表：</text><use href="#ci" x="672" y="3378.3"/>
<text class="sb m" x="144.2" y="3391.7">序号</text><text class="sb m" x="184.3" y="3391.7">系统编号</text><text class="sb m" x="279.5" y="3391.7">采购计划名称</text><text class="sb m" x="349.8" y="3391.7">说 明</text><text class="sb m" x="421.5" y="3391.7">制定人</text><text class="sb m" x="527" y="3391.7">截至时间</text><text class="sb m" x="614.8" y="3391.7">状态</text><text class="sb m" x="659.4" y="3391.7">操作</text>
<rect class="row" x="131" y="3399" width="546" height="13"/>
<text class="d m" x="144.2" y="3405.7">1</text><text class="d m" x="184.3" y="3405.7">1000</text><text class="d m" x="279.5" y="3405.7">dfgsdf</text><text class="d m" x="339.7" y="3405.7">gsdfg</text><text class="s m" x="421.5" y="3405.7">系统管理员</text><text class="s m" x="527" y="3405.7">2007年9月27日</text><text class="s m" x="614.8" y="3405.7">已发布</text>
<rect class="btn" x="643.8" y="3400" width="31.2" height="10.7"/><text class="sb m" x="659.4" y="3405.3">调整</text>
</g>

<g id="shot3" class="bl">
<rect class="shot" x="122.3" y="3429.3" width="557.2" height="128"/>
<rect class="bar" x="123" y="3430" width="556" height="14"/>
<rect class="tab" x="263.2" y="3432.5" width="58.8" height="11.5"/><rect class="tab" x="326.4" y="3432.5" width="58.6" height="11.5"/><rect class="tab" x="390.7" y="3432.5" width="58.7" height="11.5"/><rect class="on" x="200" y="3433" width="57.6" height="11.2"/>
<text class="sb m" style="fill:#fff" x="158.3" y="3439.3">□【个人申请】</text><text class="s m" x="228.2" y="3439.3">物资申领</text><text class="st m" x="290" y="3439.3">物资退仓</text><text class="st m" x="353.5" y="3439.3">领用查询</text><text class="st m" x="419.3" y="3439.3">采购申请</text>
<rect class="pb" x="127.5" y="3449.3" width="548.3" height="28"/><rect class="ph" x="127.5" y="3449.3" width="548.3" height="12.7" rx="3"/>
<text class="sw" x="136" y="3455.5">· 选择操作：</text><use href="#ci" x="670" y="3455.5"/>
<text class="s" x="139.7" y="3470">选择物资类别：</text><rect class="sel" x="184.3" y="3464.3" width="68.7" height="10"/><text class="s" x="185.5" y="3469">选择物资类别······</text><rect x="247" y="3465" width="5.5" height="8.6" fill="#c9d2dc"/>
<rect class="btn" x="257.2" y="3464.3" width="70.6" height="10.3" style="stroke:#8a9bb3"/><text class="sb m" x="292.5" y="3469.3">填写领用申请单</text>
<rect class="pb" x="127.5" y="3483.3" width="548.3" height="69.7"/><rect class="ph" x="127.5" y="3483.3" width="548.3" height="12.4" rx="3"/>
<text class="sw" x="136" y="3489.5">· 领用申请列表：</text><use href="#ci" x="670" y="3489.5"/>
<text class="sb m" x="139" y="3502.3">序号</text><text class="sb m" x="186.2" y="3502.3">系统编号</text><text class="sb m" x="258" y="3502.3">电子编号</text><text class="sb m" x="333.8" y="3502.3">起草人</text><text class="sb m" x="419.3" y="3502.3">起草日期</text><text class="sb m" x="500.3" y="3502.3">物资说明</text><text class="sb m" x="565" y="3502.3">金额</text><text class="sb m" x="615.6" y="3502.3">状态</text><text class="sb m" x="656.5" y="3502.3">操作</text>
<rect class="row" x="128" y="3510.7" width="547.5" height="12.6"/><rect class="row" x="128" y="3524.3" width="547.5" height="13"/><rect class="row" x="128" y="3538.3" width="547.5" height="13.7"/>
<text class="d m" x="139" y="3517">1</text><text class="d m" x="186.2" y="3517">11229</text><text class="s m" x="333.8" y="3516.5">系统管理员</text><text class="d m" x="419.3" y="3517">2008-6-18</text><text class="d m" x="570" y="3517">¥35,745.25</text><text class="s m" x="615.6" y="3516.5">起草中…</text><rect class="btn" x="642" y="3511.5" width="30.8" height="10.5"/><text class="sb m" x="657.4" y="3516.7">编辑</text>
<text class="d m" x="139" y="3530.7">2</text><text class="d m" x="186.2" y="3530.7">11230</text><text class="s m" x="333.8" y="3530.2">系统管理员</text><text class="d m" x="419.3" y="3530.7">2008-6-18</text><text class="d m" x="500.3" y="3530.7">dasfasdf</text><text class="d m" x="570" y="3530.7">¥35,745.25</text><text class="s m" x="615.6" y="3530.2">起草中…</text><rect class="btn" x="642" y="3525.5" width="30.8" height="10.5"/><text class="sb m" x="657.4" y="3530.7">编辑</text>
<text class="d m" x="139" y="3545">3</text><text class="d m" x="186.2" y="3545">8084</text><text class="s m" x="333.8" y="3544.5">系统管理员</text><text class="d m" x="419.3" y="3545">2007-9-3</text><text class="d m" x="576" y="3545">¥624.00</text><text class="s m" x="615.6" y="3544.5">审批中…</text>
</g>

<g id="shot4" class="bl">
<rect class="shot" x="122.3" y="3577.3" width="557.2" height="125.4"/>
<rect class="bar" x="123" y="3578" width="556" height="14"/>
<rect class="tab" x="262.4" y="3580.5" width="58.4" height="11.5"/><rect class="tab" x="326.4" y="3580.5" width="58.6" height="11.5"/><rect class="tab" x="390.7" y="3580.5" width="58.3" height="11.5"/><rect class="tab" x="454.6" y="3580.5" width="58.7" height="11.5"/><rect class="on" x="198" y="3581" width="58.8" height="11.2"/>
<text class="sb m" style="fill:#fff" x="156.5" y="3586.7">□【采购管理】</text><text class="s m" x="227.5" y="3586.7">一般请示</text><text class="st m" x="291.4" y="3586.7">订单管理</text><text class="st m" x="355.4" y="3586.7">合同付款</text><text class="st m" x="419.3" y="3586.7">供应商评估</text><text class="st m" x="484" y="3586.7">汇总管理</text>
<rect class="pb" x="125.6" y="3597.3" width="552.1" height="27.7"/><rect class="ph" x="125.6" y="3597.3" width="552.1" height="12.7" rx="3"/>
<text class="sw" x="135" y="3603.5">· 选择操作：</text><use href="#ci" x="671" y="3603.5"/>
<rect class="btn" x="142.7" y="3612" width="50.2" height="10.7"/><text class="sb m" x="167.8" y="3617">填写申请单</text>
<rect class="pb" x="125.6" y="3631" width="552.1" height="66.3"/><rect class="ph" x="125.6" y="3631" width="552.1" height="13" rx="3"/>
<text class="sw" x="135" y="3637.3">· 申请列表：</text><use href="#ci" x="671" y="3637.5"/>
<text class="sb m" x="137.9" y="3650.7">序号</text><text class="sb m" x="192.9" y="3650.7">系统编号</text><text class="sb m" x="285.8" y="3650.7">起草人</text><text class="sb m" x="396.2" y="3650.7">起草日期</text><text class="sb m" x="484.7" y="3650.7">标题</text><text class="sb m" x="541.6" y="3650.7">内容</text><text class="sb m" x="593.3" y="3650.7">联系电话</text><text class="sb m" x="627.8" y="3650.7">状态</text><text class="sb m" x="658.3" y="3650.7">操作</text>
<rect class="row" x="126" y="3658" width="551" height="14"/>
<text class="d m" x="137.9" y="3665.3">1</text><text class="d m" x="192.9" y="3665.3">1000</text><text class="s m" x="285.8" y="3664.7">系统管理员</text><text class="d m" x="396.2" y="3665.3">2007-10-12</text><text class="d m" x="484.7" y="3665.3">sdfsdf</text><text class="d m" x="541.6" y="3665.3">sdafasfdsdffd</text><text class="d m" x="593.3" y="3665.3">2345</text><text class="s m" x="627.8" y="3664.7">未审</text>
<rect class="btn" x="643" y="3660" width="31.3" height="10"/><text class="sb m" x="658.6" y="3664.8">编辑</text>
</g>

<g id="shot5" class="bl">
<rect class="shot" x="122.3" y="3713.3" width="557.2" height="122"/>
<rect class="bar" x="123" y="3714" width="556" height="12.7"/>
<rect class="tab" x="261.7" y="3715.5" width="59.1" height="11.2"/><rect class="tab" x="325.6" y="3715.5" width="58.4" height="11.2"/><rect class="tab" x="388.8" y="3715.5" width="59.5" height="11.2"/><rect class="tab" x="452.7" y="3715.5" width="58.8" height="11.2"/><rect class="tab" x="516" y="3715.5" width="59.4" height="11.2"/><rect class="on" x="198" y="3716" width="58.8" height="10.9"/>
<text class="sb m" style="fill:#fff" x="156.5" y="3721.7">□【总仓管理】</text><text class="s m" x="227.5" y="3721.7">直接入库</text><text class="st m" x="290.7" y="3721.7">物资分发</text><text class="st m" x="354.6" y="3721.7">物资盘点</text><text class="st m" x="419" y="3721.7">当前库存查询</text><text class="st m" x="482" y="3721.7">出入库控制</text><text class="st m" x="545.7" y="3721.7">数据初始化</text>
<rect class="pb" x="126.4" y="3732" width="548.6" height="28"/><rect class="ph" x="126.4" y="3732" width="548.6" height="12.7" rx="3"/>
<text class="sw" x="136" y="3738.2">· 选择操作：</text><use href="#ci" x="669" y="3738.2"/>
<text class="s" x="139" y="3752.7">选择物资类别：</text><rect class="sel" x="183.6" y="3746.7" width="66.9" height="10.3"/><text class="s" x="185" y="3751.6">选择物资类别······</text><rect x="245" y="3747.4" width="5.5" height="9" fill="#c9d2dc"/>
<rect class="btn" x="256" y="3747" width="49.5" height="10.7"/><text class="s m" x="280.7" y="3752">填写入库单</text>
<rect class="pb" x="126.4" y="3765.7" width="548.6" height="66"/><rect class="ph" x="126.4" y="3765.7" width="548.6" height="12.3" rx="3"/>
<text class="sw" x="136" y="3771.8">· 直接入库列表：</text><use href="#ci" x="669" y="3771.8"/>
<text class="sb m" x="137.9" y="3785">序号</text><text class="sb m" x="200.7" y="3785">系统编号</text><text class="sb m" x="303" y="3785">电子编号</text><text class="sb m" x="393.6" y="3785">起草人</text><text class="sb m" x="485" y="3785">起草日期</text><text class="sb m" x="564.3" y="3785">金额</text><text class="sb m" x="615.6" y="3785">状态</text><text class="sb m" x="656" y="3785">操作</text>
</g>
</svg>
